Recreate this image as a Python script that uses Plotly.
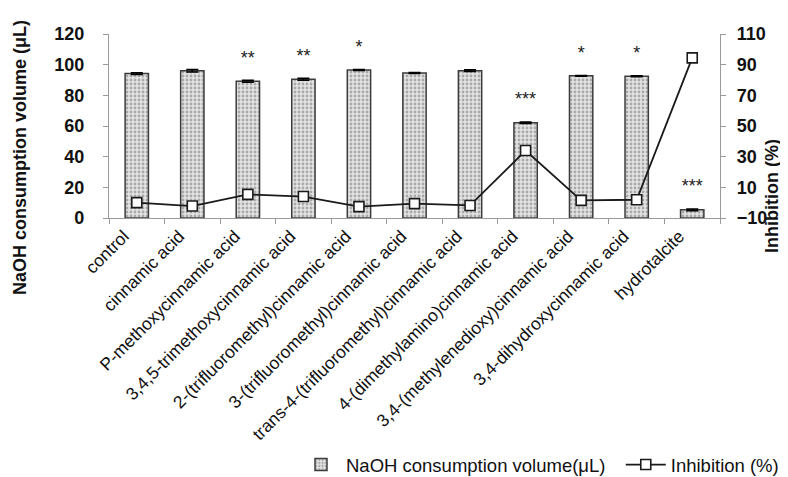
import plotly.graph_objects as go

categories = [
    "control", "cinnamic acid", "P-methoxycinnamic acid",
    "3,4,5-trimethoxycinnamic acid", "2-(trifluoromethyl)cinnamic acid",
    "3-(trifluoromethyl)cinnamic acid", "trans-4-(trifluoromethyl)cinnamic acid",
    "4-(dimethylamino)cinnamic acid", "3,4-(methylenedioxy)cinnamic acid",
    "3,4-dihydroxycinnamic acid", "hydrotalcite",
]
naoh_volume = [94.2, 96.0, 89.2, 90.5, 96.5, 94.6, 96.1, 62.1, 92.7, 92.4, 5.3]
naoh_error = [0.6, 0.8, 0.6, 0.6, 0.3, 0.3, 0.6, 0.5, 0.3, 0.3, 0.5]
inhibition = [0.0, -2.2, 5.4, 4.0, -2.6, -0.6, -1.8, 34.0, 1.5, 1.9, 94.4]
significance = ["", "", "**", "**", "*", "", "", "***", "*", "*", "***"]

W, H = 788, 477
L, R, T, B = 101, 712, 26, 210

FONT = "Liberation Sans, Arial, sans-serif"
AX = "#9a9a9a"
STAR_GAP = 8  # value units between error bar top and star text
NBSP = "\u00a0"

fig = go.Figure()

fig.add_trace(go.Bar(
    x=categories, y=naoh_volume, name="NaOH consumption volume(μL)" + NBSP * 2,
    marker=dict(color="#e4e4e4", line=dict(color="#3c3c3c", width=1.5),
                pattern=dict(shape=".", bgcolor="#e4e4e4", fgcolor="#6e6e6e",
                             size=4, solidity=0.4)),
    error_y=dict(type="data", array=naoh_error, color="#000000",
                 thickness=1.5, width=6),
    yaxis="y",
))

star_y = [v + e + STAR_GAP for v, e in zip(naoh_volume, naoh_error)]
fig.add_trace(go.Scatter(
    x=categories, y=star_y, text=significance, mode="text",
    textposition="top center", showlegend=False,
    textfont=dict(family=FONT, size=18, color="#222222"),
    yaxis="y", hoverinfo="skip", cliponaxis=False,
))

fig.add_trace(go.Scatter(
    x=categories, y=inhibition, name="Inhibition (%)", mode="lines+markers",
    line=dict(color="#1a1a1a", width=1.8),
    marker=dict(symbol="square", size=10, color="#ffffff",
                line=dict(color="#1a1a1a", width=1.6)),
    yaxis="y2", cliponaxis=False,
))

pw, ph = R - L, B - T
fig.add_annotation(
    text="<b>NaOH consumption volume (μL)</b>", textangle=-90,
    xref="paper", yref="paper", x=(12 - L) / pw, y=(B - 150) / ph,
    xanchor="center", yanchor="middle",
    showarrow=False, font=dict(family=FONT, size=18, color="#111111"),
)
fig.add_annotation(
    text="<b>Inhibition (%)</b>", textangle=-90,
    xref="paper", yref="paper", x=(764 - L) / pw, y=(B - 188) / ph,
    xanchor="center", yanchor="middle",
    showarrow=False, font=dict(family=FONT, size=18, color="#111111"),
)

fig.update_layout(
    width=W, height=H,
    margin=dict(l=L, r=W - R, t=T, b=H - B, autoexpand=False),
    paper_bgcolor="white", plot_bgcolor="white",
    bargap=0.58,
    font=dict(family=FONT, color="#111111"),
    xaxis=dict(
        type="category", range=[-0.5, len(categories) - 0.5],
        showline=True, linecolor=AX, linewidth=1.3,
        ticks="outside", tickson="boundaries", ticklen=5, tickcolor=AX,
        tickangle=-45, tickfont=dict(family=FONT, size=17.5, color="#111111"),
        ticklabelshift=-13,
        showgrid=False, automargin=False,
    ),
    yaxis=dict(
        range=[0, 120], dtick=20, showline=True, linecolor=AX, linewidth=1.3,
        ticks="outside", ticklen=5, tickcolor=AX, showgrid=False, zeroline=False,
        tickfont=dict(family=FONT, size=18, color="#111111"),
        ticklabelstandoff=15, tickprefix="<b>", ticksuffix="</b>",
        automargin=False,
    ),
    yaxis2=dict(
        range=[-10, 110], dtick=20, tick0=-10, overlaying="y", side="right",
        showline=True, linecolor=AX, linewidth=1.3,
        ticks="outside", ticklen=5, tickcolor=AX, showgrid=False, zeroline=False,
        tickfont=dict(family=FONT, size=18, color="#111111"),
        ticklabelstandoff=7, tickprefix="<b>", ticksuffix="</b>",
        automargin=False,
    ),
    legend=dict(
        orientation="h", xref="container", yref="container",
        x=288 / W, xanchor="left", y=20 / H, yanchor="middle",
        font=dict(family=FONT, size=18.5, color="#111111"),
        itemwidth=40, bgcolor="rgba(0,0,0,0)", tracegroupgap=0,
    ),
)

fig.write_html("out.html")
